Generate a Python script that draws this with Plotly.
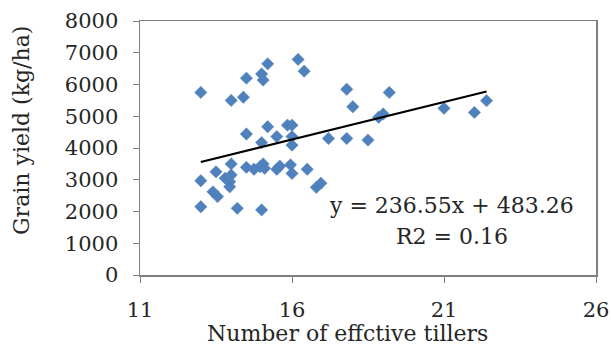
import plotly.graph_objects as go

tillers = [13.0, 14.0, 14.4, 14.5, 15.0, 15.05, 15.2, 16.2, 16.4, 17.8, 18.0, 19.2,
           18.85, 19.0, 21.0, 22.0, 22.4,
           14.5, 15.2, 15.5, 15.0, 15.85, 16.0, 16.0, 16.0, 17.2, 17.8, 18.5,
           13.0, 13.5, 14.0, 13.8, 13.95, 14.0, 13.95, 13.4, 13.55, 13.0, 14.2, 15.0,
           14.5, 14.75, 14.95, 15.05, 15.1, 15.5, 15.6, 15.95, 16.0, 16.5, 16.8, 16.95]
grain_yield = [5750, 5500, 5600, 6200, 6330, 6140, 6650, 6790, 6420, 5850, 5300, 5750,
               4970, 5070, 5250, 5120, 5490,
               4440, 4670, 4360, 4170, 4720, 4720, 4360, 4090, 4300, 4300, 4250,
               2970, 3250, 3500, 3050, 2940, 3150, 2780, 2620, 2470, 2150, 2100, 2050,
               3390, 3330, 3410, 3500, 3360, 3330, 3430, 3470, 3200, 3330, 2760, 2890]

slope = 236.55
intercept = 483.26
r2 = 0.16

x_ticks = [11, 16, 21, 26]
y_ticks = [0, 1000, 2000, 3000, 4000, 5000, 6000, 7000, 8000]

x_title = "Number of effctive tillers"
y_title = "Grain yield (kg/ha)"

trend_x = [min(tillers), max(tillers)]
trend_y = [slope * v + intercept for v in trend_x]

FONT = "DejaVu Serif"
TXT = "#262626"
AXC = "#7f7f7f"

fig = go.Figure()
fig.add_trace(go.Scatter(
    x=tillers, y=grain_yield, mode="markers",
    marker=dict(symbol="diamond", size=9.5, color="#4F81BD",
                line=dict(width=0.5, color="#4F81BD")),
    showlegend=False, hoverinfo="skip"))
fig.add_trace(go.Scatter(
    x=trend_x, y=trend_y, mode="lines",
    line=dict(color="black", width=2), showlegend=False, hoverinfo="skip"))

fig.add_annotation(x=21.25, y=2200, xref="x", yref="y",
                   text=f"y = {slope}x + {intercept}", showarrow=False,
                   font=dict(family=FONT, size=22, color=TXT))
fig.add_annotation(x=21.25, y=1200, xref="x", yref="y",
                   text=f"R2 = {r2}", showarrow=False,
                   font=dict(family=FONT, size=22, color=TXT))

# axis titles (placed as annotations to match the reference offsets)
fig.add_annotation(x=0.456, y=-0.232, xref="paper", yref="paper",
                   text=x_title, showarrow=False, xanchor="center", yanchor="middle",
                   font=dict(family=FONT, size=22, color=TXT))
fig.add_annotation(x=-0.2588, y=0.571, xref="paper", yref="paper",
                   text=y_title, showarrow=False, textangle=-90,
                   xanchor="center", yanchor="middle",
                   font=dict(family=FONT, size=22, color=TXT))

fig.update_layout(
    width=611, height=354,
    margin=dict(l=140, r=15, t=21, b=79),
    paper_bgcolor="white", plot_bgcolor="white",
    font=dict(family=FONT, size=21, color=TXT),
)
fig.update_xaxes(
    range=[11, 26], tickvals=x_ticks, ticktext=[str(v) for v in x_ticks],
    showgrid=False, zeroline=False, showline=True, linecolor=AXC, linewidth=1.5,
    mirror=True, ticks="outside", ticklen=6, tickcolor=AXC, automargin=False,
    ticklabelstandoff=9,
)
fig.update_yaxes(
    range=[0, 8000], tickvals=y_ticks, ticktext=[str(v) for v in y_ticks],
    showgrid=False, zeroline=False, showline=True, linecolor=AXC, linewidth=1.5,
    mirror=True, ticks="outside", ticklen=6, tickcolor=AXC, automargin=False,
    ticklabelstandoff=10,
)

fig.write_html("out.html", config={"displayModeBar": False, "staticPlot": True},
               post_script="document.body.style.margin='0px';document.body.style.overflow='hidden';")
